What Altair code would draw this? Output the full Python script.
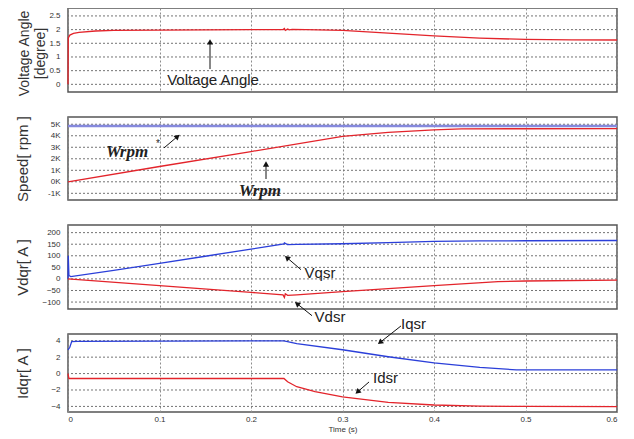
import altair as alt
import pandas as pd

# ---------------- data ----------------
# Panel 1: voltage angle [degree]
va_t = [0, 0.0003, 0.002, 0.006, 0.012, 0.03, 0.05, 0.1, 0.15, 0.2, 0.235,
        0.2365, 0.2375, 0.24, 0.242, 0.245, 0.26, 0.3, 0.35, 0.4, 0.45, 0.5, 0.55, 0.6]
va_v = [0, 1.70, 1.80, 1.86, 1.90, 1.95, 1.97, 1.98, 1.99, 2.00, 2.00,
        2.04, 1.97, 2.02, 1.99, 2.01, 2.00, 1.97, 1.87, 1.77, 1.69, 1.64, 1.625, 1.62]

# Panel 2: speed [rpm]
wref_t = [0, 0.6]
wref_v = [4850, 4850]
wrpm_t = [0, 0.1, 0.2, 0.3, 0.35, 0.4, 0.43, 0.5, 0.6]
wrpm_v = [0, 1330, 2630, 3940, 4290, 4520, 4600, 4610, 4620]

# Panel 3: Vdqr
vq_t = [0, 0.0003, 0.001, 0.003, 0.05, 0.1, 0.15, 0.2, 0.236, 0.2365, 0.24, 0.25,
        0.3, 0.35, 0.4, 0.45, 0.5, 0.6]
vq_v = [0, 100, 15, 10, 37, 67, 98, 129, 151, 156, 148, 149,
        152, 157, 162, 164, 165, 166]
vd_t = [0, 0.1, 0.2, 0.235, 0.2365, 0.2375, 0.24, 0.25, 0.3, 0.4, 0.47, 0.5, 0.6]
vd_v = [0, -29, -58, -69, -80, -64, -71, -69, -55, -29, -12, -9, -5]

# Panel 4: Idqr
iq_t = [0, 0.002, 0.004, 0.01, 0.1, 0.2, 0.236, 0.25, 0.3, 0.35, 0.4, 0.45, 0.49, 0.6]
iq_v = [2.9, 3.2, 3.9, 3.93, 3.95, 3.98, 3.98, 3.65, 2.9, 2.05, 1.3, 0.75, 0.45, 0.45]
id_t = [0, 0.001, 0.1, 0.2, 0.236, 0.24, 0.25, 0.27, 0.3, 0.35, 0.4, 0.45, 0.5, 0.6]
id_v = [0, -0.6, -0.6, -0.6, -0.6, -1.0, -1.6, -2.2, -2.85, -3.5, -3.83, -3.97, -4.0, -4.02]

x_ticks = [0, 0.1, 0.2, 0.3, 0.4, 0.5, 0.6]
y1_ticks = [0, 0.5, 1, 1.5, 2, 2.5]
y2_ticks = [-1000, 0, 1000, 2000, 3000, 4000, 5000]
y3_ticks = [-100, -50, 0, 50, 100, 150, 200]
y4_ticks = [-4, -2, 0, 2, 4]

# annotations (data coordinates)
p1_labels = [{"t": 0.1585, "v": 0.16, "s": "Voltage Angle"}]
p1_arrows = [{"t": 0.1552, "v": 0.56, "t2": 0.1552, "v2": 1.55, "a": 0}]
p2_labels = [{"t": 0.0645, "v": 2600, "s": "Wrpm"}, {"t": 0.2098, "v": -757, "s": "Wrpm"}]
p2_star = [{"t": 0.0984, "v": 3250, "s": "*"}]
p2_arrows = [{"t": 0.1049, "v": 2940, "t2": 0.1197, "v2": 3939, "a": 48},
             {"t": 0.2164, "v": 243, "t2": 0.2164, "v2": 1548, "a": 0}]
p3_labels = [{"t": 0.2754, "v": 27, "s": "Vqsr"}, {"t": 0.2863, "v": -163, "s": "Vdsr"}]
p3_arrows = [{"t": 0.2546, "v": 40, "t2": 0.2393, "v2": 92, "a": 311},
             {"t": 0.2667, "v": -159, "t2": 0.2503, "v2": -107, "a": 309}]
p4_labels = [{"t": 0.3776, "v": 6.04, "s": "Iqsr"}, {"t": 0.347, "v": -0.54, "s": "Idsr"}]
p4_arrows = [{"t": 0.3639, "v": 5.80, "t2": 0.341, "v2": 3.79, "a": 232},
             {"t": 0.329, "v": -1.02, "t2": 0.3164, "v2": -2.24, "a": 229}]

RED = "#e3242b"
BLUE = "#2b3fd9"
GRIDC = "#8c8c8c"
HGRIDC = "#737373"
W = 549


def xaxis(show):
    g = dict(grid=True, gridColor=GRIDC, gridDash=[2, 2], gridWidth=1, gridOpacity=1)
    if show:
        return alt.Axis(values=x_ticks, format="~r", title="Time (s)", ticks=False,
                        domain=False, labelPadding=3, titlePadding=2, labelOverlap=False,
                        labelFontSize=8, titleFontSize=8, titleFontWeight="normal", **g)
    return alt.Axis(values=x_ticks, labels=False, ticks=False, domain=False,
                    title=None, **g)


def yaxis(ticks, title, title_x, title_size=15, title_y=None, label_expr=None):
    kw = dict(values=ticks, format="~r", title=title, ticks=False, domain=False,
              grid=False, labelPadding=8, labelOverlap=False, labelFlush=False,
              titleX=title_x, titleBaseline="middle", titleAngle=270,
              titleFontSize=title_size)
    if title_y is not None:
        kw["titleY"] = title_y
    if label_expr:
        kw["labelExpr"] = label_expr
    return alt.Axis(**kw)


class Panel:
    def __init__(self, domain, ticks, show_x, axis):
        self.ticks = ticks
        self.xs = alt.Scale(domain=[0, 0.6], nice=False, zero=False)
        self.ys = alt.Scale(domain=domain, nice=False, zero=False)
        self.xa = xaxis(show_x)
        self.ya = axis

    def X(self, f="t"):
        return alt.X(f + ":Q", scale=self.xs, axis=self.xa)

    def Y(self, f="v"):
        return alt.Y(f + ":Q", scale=self.ys, axis=self.ya)

    def grid(self):
        return alt.Chart(pd.DataFrame({"v": self.ticks})).mark_rule(
            color=HGRIDC, strokeWidth=1, strokeDash=[2, 2]).encode(y=self.Y())

    def line(self, t, v, color, width=1.3):
        return alt.Chart(pd.DataFrame({"t": t, "v": v})).mark_line(
            color=color, strokeWidth=width).encode(x=self.X(), y=self.Y())

    def labels(self, rows, font="Liberation Sans", size=15, style="normal", weight="normal"):
        return alt.Chart(pd.DataFrame(rows)).mark_text(
            font=font, fontSize=size, fontStyle=style, fontWeight=weight,
            color="#222", baseline="middle", align="center").encode(
            x=self.X(), y=self.Y(), text="s:N")

    def arrows(self, rows):
        df = pd.DataFrame(rows)
        shaft = alt.Chart(df).mark_rule(color="#111", strokeWidth=1).encode(
            x=self.X(), y=self.Y(), x2="t2:Q", y2="v2:Q")
        head = alt.Chart(df).mark_point(shape="triangle-up", filled=True, color="#111",
                                        size=38, opacity=1).encode(
            x=self.X("t2"), y=self.Y("v2"), angle=alt.Angle("a:Q", scale=None))
        return shaft + head


P1 = Panel([-0.28, 2.79], y1_ticks, False,
           yaxis(y1_ticks, ["Voltage Angle", "[degree]"], -44, title_size=14, title_y=45))
P2 = Panel([-1580, 5630], y2_ticks, False,
           yaxis(y2_ticks, "Speed[ rpm ]", -46, label_expr="datum.value/1000 + 'K'"))
P3 = Panel([-130, 233], y3_ticks, False, yaxis(y3_ticks, "Vdqr[ A ]", -46))
P4 = Panel([-4.68, 4.82], y4_ticks, True, yaxis(y4_ticks, "Idqr[ A ]", -46))

p1 = alt.layer(
    P1.grid(),
    P1.line(va_t, va_v, RED),
    P1.labels(p1_labels),
    P1.arrows(p1_arrows),
).properties(width=W, height=84)

p2 = alt.layer(
    P2.grid(),
    P2.line(wref_t, wref_v, "#8589dd", width=2.6),
    P2.line(wrpm_t, wrpm_v, RED),
    P2.labels(p2_labels, font="Liberation Serif", size=17, style="italic", weight="bold"),
    P2.labels(p2_star, size=10),
    P2.arrows(p2_arrows),
).properties(width=W, height=83)

p3 = alt.layer(
    P3.grid(),
    P3.line(vq_t, vq_v, BLUE),
    P3.line(vd_t, vd_v, RED),
    P3.labels(p3_labels),
    P3.arrows(p3_arrows),
).properties(width=W, height=84)

p4 = alt.layer(
    P4.grid(),
    P4.line(iq_t, iq_v, BLUE),
    P4.line(id_t, id_v, RED),
    P4.labels(p4_labels),
    P4.arrows(p4_arrows),
).properties(width=W, height=78)

chart = alt.vconcat(p1, p2, p3, p4, spacing=25, bounds="flush").properties(
    padding={"left": 6, "top": -1, "right": 0, "bottom": 0}
).configure(font="Liberation Sans").configure_view(
    stroke="#555", strokeWidth=1.5
).configure_axis(
    labelFont="Liberation Sans", labelFontSize=8, labelColor="#333",
    titleFont="Liberation Sans", titleColor="#333", titleFontWeight="normal"
)

chart.save("out.html", embed_options={"renderer": "svg", "actions": False})
